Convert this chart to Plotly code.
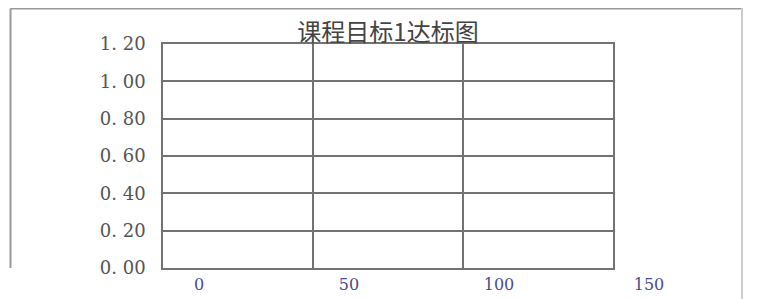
import plotly.graph_objects as go

title_text = "课程目标1达标图"
x_ticks = [0, 50, 100, 150]
x_tick_labels = ["0", "50", "100", "150"]
y_ticks = [0.0, 0.2, 0.4, 0.6, 0.8, 1.0, 1.2]
y_tick_labels = ["0. 00", "0. 20", "0. 40", "0. 60", "0. 80", "1. 00", "1. 20"]
# no data points are visible in the chart
series_x = []
series_y = []

grid_col = "#737373"
txt_col = "#555555"

W, H = 763, 291  # page body has an 8px margin

fig = go.Figure()
fig.add_trace(go.Scatter(x=series_x, y=series_y, mode="markers",
                         marker=dict(color="#4472c4", size=6), showlegend=False))

fig.update_layout(
    width=W, height=H,
    margin=dict(l=155, r=158, t=36, b=31, autoexpand=False),
    paper_bgcolor="white", plot_bgcolor="white",
    title=dict(text=title_text, x=0.5, xref="paper", y=1 - 25 / H, yref="container",
               yanchor="middle",
               font=dict(family="Noto Sans CJK SC", size=24, color="#444444")),
    xaxis=dict(range=[0, 150], tickvals=x_ticks, ticktext=x_tick_labels,
               automargin=False,
               showgrid=True, gridcolor=grid_col, gridwidth=1.5,
               showline=True, linecolor=grid_col, linewidth=1.5, mirror=True,
               zeroline=False, ticks="outside", ticklen=1, tickcolor="rgba(0,0,0,0)",
               ticklabelshift=36,
               tickfont=dict(family="DejaVu Serif", size=16, color="#4a4a8a")),
    yaxis=dict(range=[0, 1.2], tickvals=y_ticks, ticktext=y_tick_labels,
               automargin=False,
               showgrid=True, gridcolor=grid_col, gridwidth=1.5,
               showline=True, linecolor=grid_col, linewidth=1.5, mirror=True,
               zeroline=False, ticks="outside", ticklen=12, tickcolor="rgba(0,0,0,0)",
               tickfont=dict(family="DejaVu Serif", size=18, color=txt_col)),
)

# outer frame of the chart area (page pixel -> paper conversions)
def px_x(p):
    return (p - 163) / 450.0

def px_y(p):
    return (268 - p) / 224.0

frame = dict(color="#9a9a9a", width=2)
fig.add_shape(type="line", xref="paper", yref="paper",
              x0=px_x(10.5), x1=px_x(10.5), y0=px_y(8.5), y1=px_y(268), line=frame)
fig.add_shape(type="line", xref="paper", yref="paper",
              x0=px_x(10.5), x1=px_x(742), y0=px_y(8.5), y1=px_y(8.5), line=frame)
fig.add_shape(type="line", xref="paper", yref="paper",
              x0=px_x(742), x1=px_x(742), y0=px_y(6), y1=px_y(299), line=dict(color="#cccccc", width=2))
fig.add_shape(type="line", xref="paper", yref="paper",
              x0=px_x(742), x1=px_x(771), y0=px_y(6), y1=px_y(6), line=dict(color="#b0b0b0", width=1.5))

fig.write_html("out.html")
